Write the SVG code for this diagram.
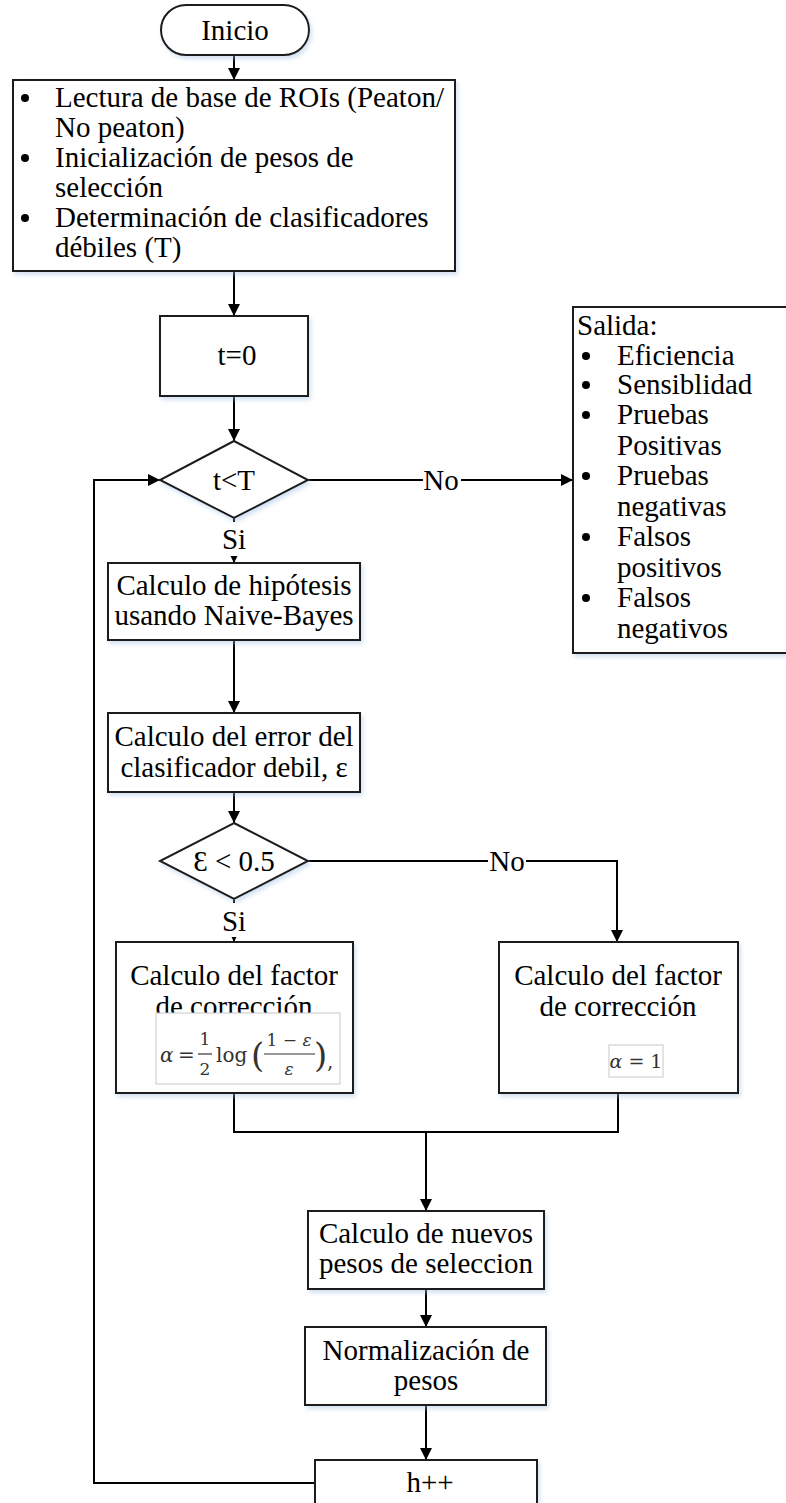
<svg xmlns="http://www.w3.org/2000/svg" width="786" height="1503" viewBox="0 0 786 1503">
<defs>
<marker id="arr" viewBox="0 0 12 12" refX="12" refY="6" markerWidth="12" markerHeight="12" markerUnits="userSpaceOnUse" orient="auto">
<path d="M0,0 L12,6 L0,12 z" fill="#000"/>
</marker>
<filter id="sh" x="-10%" y="-10%" width="130%" height="130%">
<feDropShadow dx="2" dy="3" stdDeviation="2" flood-color="#9fbde0" flood-opacity="0.45"/>
</filter>
<style>
.box{fill:#fff;stroke:#1a1a1a;stroke-width:2;filter:url(#sh)}
.t{font-family:'Liberation Serif','DejaVu Serif',serif;font-size:29px;fill:#000}
.c{text-anchor:middle}
.ln{fill:none;stroke:#000;stroke-width:2}
.m{font-family:'DejaVu Serif','Liberation Serif',serif;fill:#333}
</style>
</defs>
<rect width="786" height="1503" fill="#fff"/>

<g id="connectors" font-family="Liberation Serif, serif">
<line class="ln" x1="234" y1="55" x2="234" y2="80" marker-end="url(#arr)"/>
<line class="ln" x1="234" y1="271" x2="234" y2="316" marker-end="url(#arr)"/>
<line class="ln" x1="234" y1="396" x2="234" y2="441" marker-end="url(#arr)"/>
<line class="ln" x1="234" y1="518" x2="234" y2="563" marker-end="url(#arr)"/>
<line class="ln" x1="234" y1="640" x2="234" y2="713" marker-end="url(#arr)"/>
<line class="ln" x1="234" y1="792" x2="234" y2="823" marker-end="url(#arr)"/>
<line class="ln" x1="234" y1="899" x2="234" y2="942" marker-end="url(#arr)"/>
<polyline class="ln" points="308,480 573,480" marker-end="url(#arr)"/>
<polyline class="ln" points="308,861 617,861 617,942" marker-end="url(#arr)"/>
<polyline class="ln" points="234,1093 234,1132 618,1132 618,1093"/>
<line class="ln" x1="426" y1="1132" x2="426" y2="1211" marker-end="url(#arr)"/>
<line class="ln" x1="426" y1="1289" x2="426" y2="1327" marker-end="url(#arr)"/>
<line class="ln" x1="426" y1="1405" x2="426" y2="1460" marker-end="url(#arr)"/>
<polyline class="ln" points="315,1483 94,1483 94,480 160,480" marker-end="url(#arr)"/>
<rect x="423" y="465" width="38" height="28" fill="#fff"/>
<text class="t c" x="441" y="490">No</text>
<rect x="488" y="846" width="38" height="28" fill="#fff"/>
<text class="t c" x="507" y="871">No</text>
<rect x="220" y="522" width="28" height="34" fill="#fff"/>
<text class="t c" x="234" y="549">Si</text>
<rect x="220" y="903" width="28" height="34" fill="#fff"/>
<text class="t c" x="234" y="931">Si</text>
</g>

<g id="inicio" font-family="Liberation Serif, serif">
<rect class="box" x="161" y="5" width="148" height="50" rx="25" ry="25"/>
<text class="t c" x="235" y="40">Inicio</text>
</g>

<g id="lectura" font-family="Liberation Serif, serif">
<rect class="box" x="13" y="80" width="442" height="191"/>
<g class="t">
<circle cx="25" cy="98" r="4"/>
<text x="55" y="107">Lectura de base de ROIs (Peaton/</text>
<text x="55" y="137">No peaton)</text>
<circle cx="25" cy="158" r="4"/>
<text x="55" y="167">Inicialización de pesos de</text>
<text x="55" y="197">selección</text>
<circle cx="25" cy="218" r="4"/>
<text x="55" y="227">Determinación de  clasificadores</text>
<text x="55" y="257">débiles (T)</text>
</g>
</g>

<g id="t0" font-family="Liberation Serif, serif">
<rect class="box" x="160" y="316" width="148" height="80"/>
<text class="t c" x="237" y="365">t=0</text>
</g>

<g id="cond1" font-family="Liberation Serif, serif">
<polygon class="box" points="234,441 308,480 234,518 160,480"/>
<text class="t c" x="234" y="490">t&lt;T</text>
</g>

<g id="salida" font-family="Liberation Serif, serif">
<rect class="box" x="573" y="307" width="240" height="346"/>
<g class="t">
<text x="577" y="335">Salida:</text>
<circle cx="586" cy="356" r="4"/><text x="617" y="365">Eficiencia</text>
<circle cx="586" cy="385" r="4"/><text x="617" y="394">Sensiblidad</text>
<circle cx="586" cy="415" r="4"/><text x="617" y="424">Pruebas</text>
<text x="617" y="455">Positivas</text>
<circle cx="586" cy="476" r="4"/><text x="617" y="485">Pruebas</text>
<text x="617" y="516">negativas</text>
<circle cx="586" cy="537" r="4"/><text x="617" y="546">Falsos</text>
<text x="617" y="577">positivos</text>
<circle cx="586" cy="598" r="4"/><text x="617" y="607">Falsos</text>
<text x="617" y="638">negativos</text>
</g>
</g>

<g id="hipotesis" font-family="Liberation Serif, serif">
<rect class="box" x="108" y="563" width="252" height="77"/>
<text class="t c" x="234" y="595">Calculo de hipótesis</text>
<text class="t c" x="234" y="625">usando Naive-Bayes</text>
</g>

<g id="error" font-family="Liberation Serif, serif">
<rect class="box" x="108" y="713" width="252" height="79"/>
<text class="t c" x="234" y="746">Calculo del error del</text>
<text class="t c" x="234" y="777">clasificador debil, ε</text>
</g>

<g id="cond2" font-family="Liberation Serif, serif">
<polygon class="box" points="234,823 308,861 234,899 160,861"/>
<text class="t c" x="234" y="871">Ɛ &lt; 0.5</text>
</g>

<g id="factor1" font-family="Liberation Serif, serif">
<rect class="box" x="116" y="942" width="237" height="151"/>
<text class="t c" x="234" y="985">Calculo del factor</text>
<text class="t c" x="234" y="1016">de corrección</text>
<rect x="156" y="1013" width="184" height="71" fill="#fff" stroke="#c8c8c8" stroke-width="1"/>
<g class="m">
<text x="160" y="1062" font-size="20" font-style="italic">α</text>
<text x="178" y="1062" font-size="20">=</text>
<text x="205" y="1045" font-size="17" text-anchor="middle">1</text>
<line x1="198" y1="1054" x2="212" y2="1054" stroke="#333" stroke-width="1.2"/>
<text x="205" y="1075" font-size="17" text-anchor="middle">2</text>
<text x="216" y="1062" font-size="20">log</text>
<text x="251" y="1067" font-size="34">(</text>
<text x="289" y="1046" font-size="17" text-anchor="middle">1 − <tspan font-style="italic">ε</tspan></text>
<line x1="264" y1="1054" x2="315" y2="1054" stroke="#333" stroke-width="1.2"/>
<text x="289" y="1075" font-size="17" text-anchor="middle" font-style="italic">ε</text>
<text x="314" y="1067" font-size="34">)</text>
<text x="327" y="1068" font-size="20">,</text>
</g>
</g>

<g id="factor2" font-family="Liberation Serif, serif">
<rect class="box" x="499" y="942" width="239" height="151"/>
<text class="t c" x="618" y="985">Calculo del factor</text>
<text class="t c" x="618" y="1016">de corrección</text>
<rect x="609" y="1045" width="54" height="32" fill="#fff" stroke="#c8c8c8" stroke-width="1"/>
<text class="m" x="636" y="1068" font-size="19" text-anchor="middle"><tspan font-style="italic">α</tspan> = 1</text>
</g>

<g id="nuevos" font-family="Liberation Serif, serif">
<rect class="box" x="308" y="1211" width="236" height="78"/>
<text class="t c" x="426" y="1243">Calculo de nuevos</text>
<text class="t c" x="426" y="1273">pesos de seleccion</text>
</g>

<g id="normalizacion" font-family="Liberation Serif, serif">
<rect class="box" x="305" y="1327" width="241" height="78"/>
<text class="t c" x="426" y="1360">Normalización de</text>
<text class="t c" x="426" y="1390">pesos</text>
</g>

<g id="hpp" font-family="Liberation Serif, serif">
<rect class="box" x="315" y="1460" width="222" height="60"/>
<text class="t c" x="430" y="1492">h++</text>
</g>
</svg>
